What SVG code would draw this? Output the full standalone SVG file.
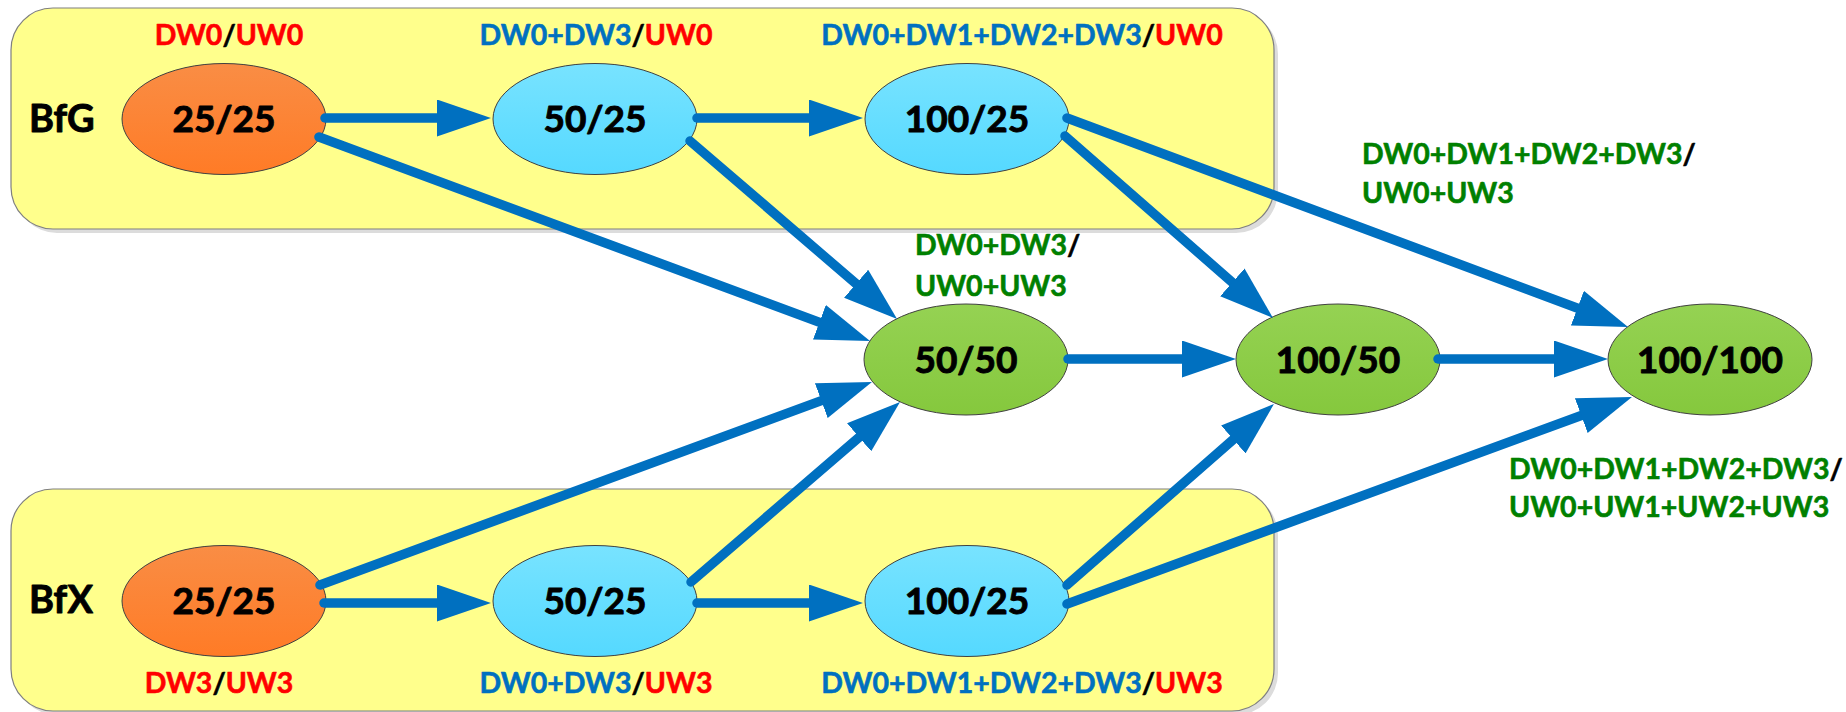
<svg xmlns="http://www.w3.org/2000/svg" width="1846" height="712" viewBox="0 0 1846 712">
  <defs>
    <linearGradient id="gOrange" x1="0" y1="0" x2="0" y2="1">
      <stop offset="0" stop-color="#F98D45"/>
      <stop offset="1" stop-color="#FF7B26"/>
    </linearGradient>
    <linearGradient id="gBlue" x1="0" y1="0" x2="0" y2="1">
      <stop offset="0" stop-color="#78E3FF"/>
      <stop offset="1" stop-color="#55D9FF"/>
    </linearGradient>
    <linearGradient id="gGreen" x1="0" y1="0" x2="0" y2="1">
      <stop offset="0" stop-color="#95D253"/>
      <stop offset="1" stop-color="#85C83D"/>
    </linearGradient>
    <marker id="arrow" viewBox="0 0 54 37" refX="24" refY="18.5" markerWidth="54" markerHeight="37" markerUnits="userSpaceOnUse" orient="auto">
      <path d="M0,0 L54,18.5 L0,37 Z" fill="#0070C0"/>
    </marker>
  </defs>
  <style>
    .panel { fill: #FFFF8C; stroke: #7F7F7F; stroke-width: 1.2; }
    .shadow { fill: #DCDCDC; }
    .orange { fill: url(#gOrange); stroke: #404040; stroke-width: 1; }
    .blue { fill: url(#gBlue); stroke: #404040; stroke-width: 1; }
    .green { fill: url(#gGreen); stroke: #404040; stroke-width: 1; }
    text { font-family: Lato, "Open Sans", "Liberation Sans", sans-serif; font-weight: bold; stroke-linejoin: round; }
    .val { font-size: 37px; fill: #000; stroke: #000; stroke-width: 0.9; text-anchor: middle; }
    .grp { font-size: 38px; fill: #000; stroke: #000; stroke-width: 0.9; }
    .lbl { font-size: 28.5px; stroke-width: 0.6; }
    .mid { text-anchor: middle; }
    .r { fill: #FF0000; stroke: #FF0000; }
    .b { fill: #0070C0; stroke: #0070C0; }
    .g { fill: #008000; stroke: #008000; }
    .k { fill: #000000; stroke: #000000; }
    .conn path { fill: none; stroke: #0070C0; stroke-width: 9.5; stroke-linecap: round; marker-end: url(#arrow); }
  </style>

  <!-- group panels -->
  <g id="panel-bfg">
    <rect class="shadow" x="15" y="12" width="1263" height="221" rx="42" ry="42"/>
    <rect class="panel" x="11" y="8" width="1263" height="221" rx="42" ry="42"/>
    <text class="grp" x="29" y="132">BfG</text>
  </g>
  <g id="panel-bfx">
    <rect class="shadow" x="15" y="493" width="1263" height="222" rx="42" ry="42"/>
    <rect class="panel" x="11" y="489" width="1263" height="222" rx="42" ry="42"/>
    <text class="grp" x="29" y="613">BfX</text>
  </g>

  <!-- BfG row -->
  <g id="bfg-25-25">
    <ellipse class="orange" cx="224" cy="119" rx="102" ry="55.5"/>
    <text class="val" x="224" y="132">25/25</text>
    <text class="lbl mid" x="229" y="45"><tspan class="r">DW0</tspan><tspan class="k">/</tspan><tspan class="r">UW0</tspan></text>
  </g>
  <g id="bfg-50-25">
    <ellipse class="blue" cx="595" cy="119" rx="102" ry="55.5"/>
    <text class="val" x="595" y="132">50/25</text>
    <text class="lbl mid" x="596" y="45"><tspan class="b">DW0+DW3</tspan><tspan class="k">/</tspan><tspan class="r">UW0</tspan></text>
  </g>
  <g id="bfg-100-25">
    <ellipse class="blue" cx="967" cy="119" rx="102" ry="55.5"/>
    <text class="val" x="967" y="132">100/25</text>
    <text class="lbl mid" x="1022" y="45"><tspan class="b">DW0+DW1+DW2+DW3</tspan><tspan class="k">/</tspan><tspan class="r">UW0</tspan></text>
  </g>

  <!-- combined row -->
  <g id="mix-50-50">
    <ellipse class="green" cx="966" cy="359.5" rx="102" ry="55.5"/>
    <text class="val" x="966" y="373">50/50</text>
    <text class="lbl" x="915" y="255"><tspan class="g">DW0+DW3</tspan><tspan class="k">/</tspan></text>
    <text class="lbl g" x="915" y="296">UW0+UW3</text>
  </g>
  <g id="mix-100-50">
    <ellipse class="green" cx="1338" cy="359.5" rx="102" ry="55.5"/>
    <text class="val" x="1338" y="373">100/50</text>
    <text class="lbl" x="1362" y="164"><tspan class="g">DW0+DW1+DW2+DW3</tspan><tspan class="k">/</tspan></text>
    <text class="lbl g" x="1362" y="203">UW0+UW3</text>
  </g>
  <g id="mix-100-100">
    <ellipse class="green" cx="1710" cy="359.5" rx="102" ry="55.5"/>
    <text class="val" x="1710" y="373">100/100</text>
    <text class="lbl" x="1509" y="479"><tspan class="g">DW0+DW1+DW2+DW3</tspan><tspan class="k">/</tspan></text>
    <text class="lbl g" x="1509" y="517">UW0+UW1+UW2+UW3</text>
  </g>

  <!-- BfX row -->
  <g id="bfx-25-25">
    <ellipse class="orange" cx="224" cy="601" rx="102" ry="55.5"/>
    <text class="val" x="224" y="614">25/25</text>
    <text class="lbl mid" x="219" y="693"><tspan class="r">DW3</tspan><tspan class="k">/</tspan><tspan class="r">UW3</tspan></text>
  </g>
  <g id="bfx-50-25">
    <ellipse class="blue" cx="595" cy="601" rx="102" ry="55.5"/>
    <text class="val" x="595" y="614">50/25</text>
    <text class="lbl mid" x="596" y="693"><tspan class="b">DW0+DW3</tspan><tspan class="k">/</tspan><tspan class="r">UW3</tspan></text>
  </g>
  <g id="bfx-100-25">
    <ellipse class="blue" cx="967" cy="601" rx="102" ry="55.5"/>
    <text class="val" x="967" y="614">100/25</text>
    <text class="lbl mid" x="1022" y="693"><tspan class="b">DW0+DW1+DW2+DW3</tspan><tspan class="k">/</tspan><tspan class="r">UW3</tspan></text>
  </g>

  <!-- connectors: each path ends inside its arrowhead -->
  <g id="connectors" class="conn">
    <path d="M325,118 L461,118"/>
    <path d="M697,118 L833,118"/>
    <path d="M319,137 L841.9,330.6"/>
    <path d="M690,141 L874.3,299.4"/>
    <path d="M1065,136 L1250.4,298.2"/>
    <path d="M1067,118 L1599.9,316.5"/>
    <path d="M1068,359 L1206,359"/>
    <path d="M1438,359 L1578,359"/>
    <path d="M320,585 L843.8,392.4"/>
    <path d="M691,582 L877.3,421.6"/>
    <path d="M324,603 L461,603"/>
    <path d="M697,603 L833,603"/>
    <path d="M1067,585 L1251.4,423.7"/>
    <path d="M1067,604 L1603.8,407.3"/>
  </g>
</svg>
